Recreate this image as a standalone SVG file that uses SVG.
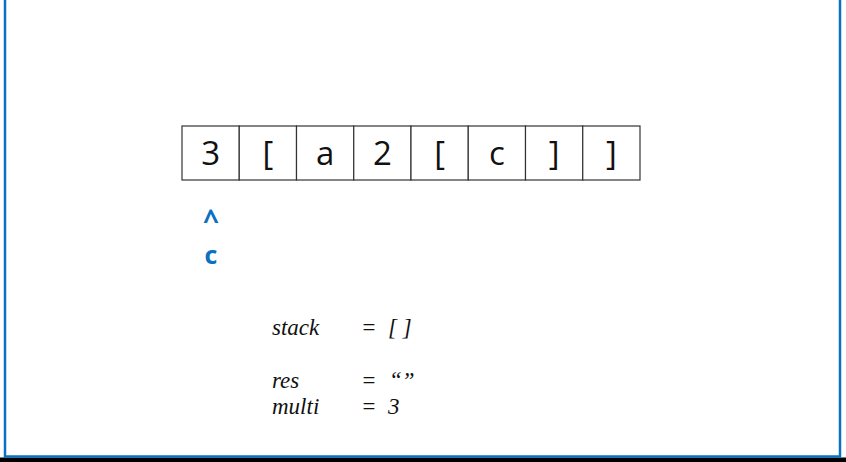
<svg xmlns="http://www.w3.org/2000/svg" width="846" height="462" viewBox="0 0 846 462">
<style>
.cell{fill:#fff;stroke:#333;stroke-width:1.2}
.ct{font-family:"Open Sans","Noto Sans",sans-serif;font-size:33px;fill:#111;text-anchor:middle}
.ptr{font-family:"Open Sans","Noto Sans",sans-serif;font-weight:bold;fill:#0A70C2;text-anchor:middle}
.var{font-family:"Liberation Serif",serif;font-style:italic;font-size:23px;fill:#111}
</style>
<rect x="0" y="0" width="846" height="462" fill="#fff"/>
<rect x="0" y="457.5" width="846" height="4.5" fill="#000"/>
<path d="M5 0 V456.5 H840 V0" fill="none" stroke="#0A70C2" stroke-width="2.5"/>
<g id="array">
<rect class="cell" x="182" y="126" width="57.25" height="54"/>
<rect class="cell" x="239.25" y="126" width="57.25" height="54"/>
<rect class="cell" x="296.5" y="126" width="57.25" height="54"/>
<rect class="cell" x="353.75" y="126" width="57.25" height="54"/>
<rect class="cell" x="411" y="126" width="57.25" height="54"/>
<rect class="cell" x="468.25" y="126" width="57.25" height="54"/>
<rect class="cell" x="525.5" y="126" width="57.25" height="54"/>
<rect class="cell" x="582.75" y="126" width="57.25" height="54"/>
<text class="ct" x="210.6" y="165">3</text>
<text class="ct" x="267.9" y="165">[</text>
<text class="ct" x="325.1" y="165">a</text>
<text class="ct" x="382.4" y="165">2</text>
<text class="ct" x="439.6" y="165">[</text>
<text class="ct" x="496.9" y="165">c</text>
<text class="ct" x="554.1" y="165">]</text>
<text class="ct" x="611.4" y="165">]</text>
</g>
<g id="pointer">
<text class="ptr" x="211" y="230" font-size="28">^</text>
<text class="ptr" x="211" y="264" font-size="25">c</text>
</g>
<g id="vars">
<text class="var" x="272" y="335">stack</text>
<text class="var" x="361" y="335">=</text>
<text class="var" x="388" y="335">[ ]</text>
<text class="var" x="272" y="388">res</text>
<text class="var" x="361" y="388">=</text>
<text class="var" x="389" y="388">“”</text>
<text class="var" x="272" y="414">multi</text>
<text class="var" x="361" y="414">=</text>
<text class="var" x="388" y="414">3</text>
</g>
</svg>
